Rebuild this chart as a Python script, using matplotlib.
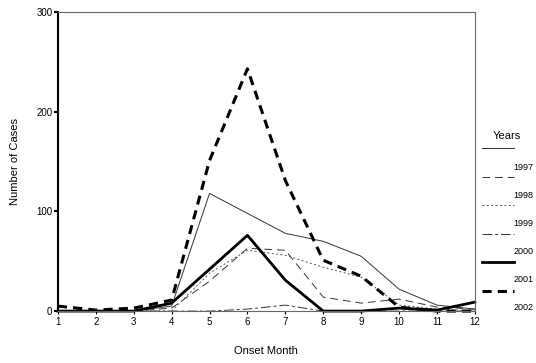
import matplotlib.pyplot as plt
from matplotlib.lines import Line2D

plt.rcParams['font.family'] = ['Liberation Sans', 'DejaVu Sans']

months = [1, 2, 3, 4, 5, 6, 7, 8, 9, 10, 11, 12]
years = ['1997', '1998', '1999', '2000', '2001', '2002']
cases_1997 = [0, 0, 0, 5, 118, 98, 78, 70, 55, 22, 6, 2]
cases_1998 = [0, 0, 0, 3, 30, 63, 61, 14, 8, 12, 4, 2]
cases_1999 = [0, 0, 0, 0, 38, 61, 56, 44, 34, 6, 2, 0]
cases_2000 = [0, 0, 0, 0, 0, 2, 6, 0, 0, 0, 0, 0]
cases_2001 = [0, 0, 0, 8, 42, 76, 31, 0, 0, 3, 1, 9]
cases_2002 = [5, 1, 3, 11, 151, 243, 131, 51, 35, 4, 0, 0]
series = [cases_1997, cases_1998, cases_1999, cases_2000, cases_2001, cases_2002]

styles = [
    dict(color='#333333', lw=0.7, ls='-'),
    dict(color='#333333', lw=0.7, ls=(0, (8, 5))),
    dict(color='#555555', lw=0.7, ls=(0, (2, 2.5))),
    dict(color='#333333', lw=0.7, ls=(0, (10, 3, 3, 3))),
    dict(color='black', lw=2.0, ls='-'),
    dict(color='black', lw=2.2, ls=(0, (3, 2))),
]

fig = plt.figure(figsize=(5.36, 3.63), dpi=100)
ax = fig.add_axes([0.108, 0.143, 0.778, 0.824])

for vals, st in zip(series, styles):
    ax.plot(months, vals, clip_on=False, **st)

ax.set_xlim(1, 12)
ax.set_ylim(0, 300)
ax.set_xticks(months)
ax.set_yticks([0, 100, 200, 300])
ax.tick_params(axis='x', length=2, labelsize=7, pad=2)
ax.tick_params(axis='y', length=3, width=1.5, labelsize=7, pad=1)
ax.spines['left'].set_linewidth(1.5)
for s in ['top', 'right', 'bottom']:
    ax.spines[s].set_color('#666666')
    ax.spines[s].set_linewidth(0.8)
ax.set_xlabel('Onset Month', fontsize=8, labelpad=14)
ax.set_ylabel('Number of Cases', fontsize=8, labelpad=12)

# manual legend at right, lines sit above their labels
fig.text(0.92, (363 - 136) / 363, 'Years', fontsize=8, ha='left', va='center')
for i, (yr, st) in enumerate(zip(years, styles)):
    ly = (363 - (148 + i * 28.5)) / 363
    ty = (363 - (167 + i * 28)) / 363
    fig.add_artist(Line2D([0.899, 0.959], [ly, ly], transform=fig.transFigure, **st))
    fig.text(0.958, ty, yr, fontsize=6.5, ha='left', va='center')

fig.savefig('out.png', dpi=100)
